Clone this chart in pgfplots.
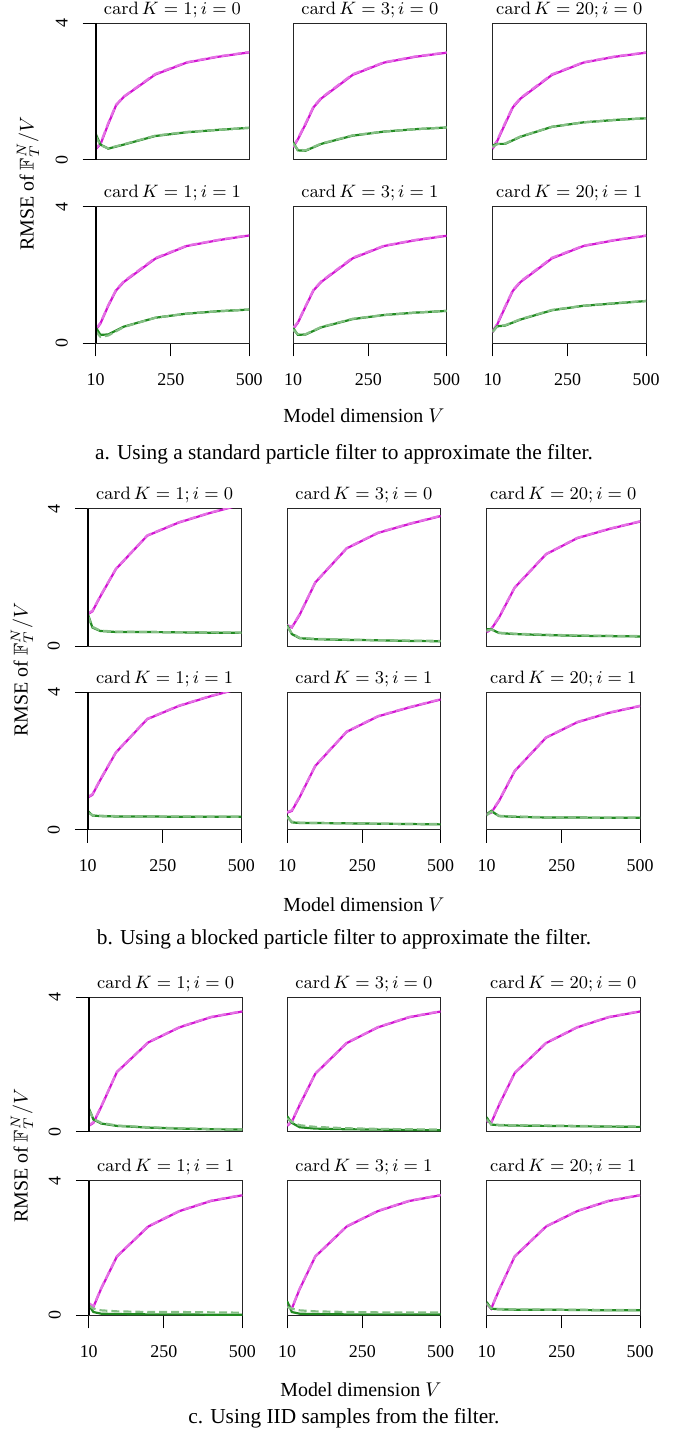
\documentclass[border=0pt]{standalone}
\usepackage{amsmath,amssymb}
\usepackage{graphicx}
\usepackage[no-math]{fontspec}
\setmainfont{Liberation Serif}
\usepackage{pgfplots}
\pgfplotsset{compat=1.18}

\definecolor{mag}{RGB}{210,20,210}
\definecolor{grn}{RGB}{34,139,34}

\pgfplotsset{
  panel/.style={
    anchor=north west, scale only axis, width=77pt,
    xmin=10, xmax=500, ymin=0, ymax=4,
    xtick=\empty, ytick=\empty,
    xtick pos=bottom, ytick pos=left,
    tick align=outside, major tick length=6.5pt,
    tick style={black, line width=0.5pt},
    axis line style={black!85, line width=0.5pt},
    title style={font=\fontsize{9}{10}\selectfont, inner sep=1pt, yshift=-4.5pt},
    tick label style={font=\fontsize{9}{10}\selectfont},
    /pgf/number format/assume math mode=true,
    xticklabel style={yshift=-5pt},
  },
  bottom/.style={xtick={10,250,500}},
  left/.style={ytick={0,4}, yticklabels={\rotatebox{90}{0},\rotatebox{90}{4}}, yticklabel shift=4pt,
    extra description/.code={\draw[black, line width=0.8pt] (rel axis cs:0,0) -- (rel axis cs:0,1);}},
  ms/.style={mag, line width=1.1pt, no markers},
  md/.style={mag!60!white, line width=1.1pt, no markers, dash pattern=on 4pt off 2pt},
  gs/.style={grn, line width=1.1pt, no markers},
  gd/.style={grn!55!white, line width=1.1pt, no markers, dash pattern=on 4pt off 2pt},
}

% #1 position, #2 title, #3 options, #4-#7 series
\newcommand{\panel}[7]{%
  \begin{axis}[panel, at={(#1)}, title={#2}, #3]
    \addplot[ms] coordinates {#4};
    \addplot[md] coordinates {#5};
    \addplot[gs] coordinates {#6};
    \addplot[gd] coordinates {#7};
  \end{axis}}

\begin{document}
\begin{tikzpicture}
\path (0,0) rectangle (345pt,-719pt);

% ---------- a: standard particle filter ----------
\panel{48pt,-9.5pt}{$\operatorname{card}K=1;i=0$}{height=68.5pt, left}
 {(10,0.32)(25,0.45)(50,1.05)(75,1.6)(100,1.85)(200,2.5)(300,2.85)(400,3.02)(500,3.15)}
 {(10,0.34)(25,0.48)(50,1.08)(75,1.62)(100,1.86)(200,2.52)(300,2.86)(400,3.03)(500,3.16)}
 {(10,0.76)(25,0.45)(50,0.33)(100,0.45)(200,0.7)(300,0.81)(400,0.88)(500,0.94)}
 {(10,0.7)(25,0.43)(50,0.34)(100,0.46)(200,0.71)(300,0.82)(400,0.88)(500,0.94)}
\panel{147pt,-9.5pt}{$\operatorname{card}K=3;i=0$}{height=68.5pt}
 {(10,0.37)(25,0.6)(50,1.05)(75,1.54)(100,1.8)(200,2.49)(300,2.85)(400,3.02)(500,3.14)}
 {(10,0.4)(25,0.62)(50,1.08)(75,1.56)(100,1.82)(200,2.51)(300,2.86)(400,3.03)(500,3.15)}
 {(10,0.52)(25,0.28)(50,0.27)(100,0.47)(200,0.71)(300,0.83)(400,0.9)(500,0.95)}
 {(10,0.48)(25,0.3)(50,0.28)(100,0.48)(200,0.72)(300,0.83)(400,0.9)(500,0.95)}
\panel{247pt,-9.5pt}{$\operatorname{card}K=20;i=0$}{height=68.5pt}
 {(10,0.32)(25,0.55)(50,1.05)(75,1.54)(100,1.8)(200,2.49)(300,2.85)(400,3.02)(500,3.14)}
 {(10,0.35)(25,0.58)(50,1.08)(75,1.56)(100,1.82)(200,2.51)(300,2.86)(400,3.03)(500,3.15)}
 {(10,0.42)(25,0.47)(50,0.47)(100,0.68)(200,0.97)(300,1.1)(400,1.17)(500,1.22)}
 {(10,0.38)(25,0.46)(50,0.48)(100,0.69)(200,0.97)(300,1.1)(400,1.17)(500,1.22)}
\panel{48pt,-101.5pt}{$\operatorname{card}K=1;i=1$}{height=68.5pt, left, bottom}
 {(10,0.39)(25,0.58)(50,1.1)(75,1.55)(100,1.8)(200,2.48)(300,2.85)(400,3.02)(500,3.16)}
 {(10,0.42)(25,0.6)(50,1.12)(75,1.57)(100,1.82)(200,2.5)(300,2.86)(400,3.03)(500,3.17)}
 {(10,0.47)(25,0.25)(50,0.26)(100,0.49)(200,0.75)(300,0.87)(400,0.94)(500,0.99)}
 {(10,0.36)(25,0.19)(50,0.23)(100,0.48)(200,0.75)(300,0.87)(400,0.94)(500,0.99)}
\panel{147pt,-101.5pt}{$\operatorname{card}K=3;i=1$}{height=68.5pt, bottom}
 {(10,0.42)(25,0.6)(50,1.08)(75,1.55)(100,1.8)(200,2.49)(300,2.85)(400,3.02)(500,3.15)}
 {(10,0.45)(25,0.62)(50,1.1)(75,1.57)(100,1.82)(200,2.51)(300,2.86)(400,3.03)(500,3.16)}
 {(10,0.45)(25,0.25)(50,0.26)(100,0.47)(200,0.71)(300,0.83)(400,0.9)(500,0.95)}
 {(10,0.4)(25,0.27)(50,0.27)(100,0.48)(200,0.72)(300,0.83)(400,0.9)(500,0.95)}
\panel{247pt,-101.5pt}{$\operatorname{card}K=20;i=1$}{height=68.5pt, bottom}
 {(10,0.32)(25,0.55)(50,1.05)(75,1.54)(100,1.8)(200,2.49)(300,2.85)(400,3.02)(500,3.15)}
 {(10,0.35)(25,0.58)(50,1.08)(75,1.56)(100,1.82)(200,2.51)(300,2.86)(400,3.03)(500,3.16)}
 {(10,0.35)(25,0.5)(50,0.52)(100,0.7)(200,0.97)(300,1.1)(400,1.17)(500,1.24)}
 {(10,0.33)(25,0.49)(50,0.53)(100,0.71)(200,0.98)(300,1.1)(400,1.18)(500,1.24)}

\node[rotate=90, font=\fontsize{10}{12}\selectfont] at (14pt,-90pt) {RMSE of $\mathbb{F}_T^N/V$};
\node[font=\fontsize{10}{12}\selectfont] at (182.5pt,-206.5pt) {Model dimension $V$};
\node[font=\fontsize{10.7}{13}\selectfont] at (172.5pt,-225.5pt) {a. Using a standard particle filter to approximate the filter.};

% ---------- b: blocked particle filter ----------
\panel{44pt,-253pt}{$\operatorname{card}K=1;i=0$}{height=69pt, left}
 {(10,0.94)(25,1.02)(50,1.45)(100,2.25)(200,3.22)(300,3.6)(400,3.88)(500,4.12)}
 {(10,0.96)(25,1.04)(50,1.47)(100,2.26)(200,3.23)(300,3.61)(400,3.89)(500,4.13)}
 {(10,0.95)(25,0.55)(50,0.45)(100,0.42)(200,0.42)(300,0.41)(400,0.4)(500,0.4)}
 {(10,0.9)(25,0.57)(50,0.46)(100,0.43)(200,0.42)(300,0.41)(400,0.41)(500,0.4)}
\panel{144pt,-253pt}{$\operatorname{card}K=3;i=0$}{height=69pt}
 {(10,0.6)(25,0.55)(50,0.92)(100,1.86)(200,2.85)(300,3.3)(400,3.56)(500,3.79)}
 {(10,0.62)(25,0.57)(50,0.94)(100,1.87)(200,2.86)(300,3.31)(400,3.57)(500,3.8)}
 {(10,0.62)(25,0.36)(50,0.24)(100,0.21)(200,0.19)(300,0.18)(400,0.16)(500,0.15)}
 {(10,0.58)(25,0.38)(50,0.25)(100,0.22)(200,0.2)(300,0.18)(400,0.17)(500,0.16)}
\panel{244pt,-253pt}{$\operatorname{card}K=20;i=0$}{height=69pt}
 {(10,0.41)(25,0.5)(50,0.84)(100,1.71)(200,2.68)(300,3.15)(400,3.41)(500,3.63)}
 {(10,0.43)(25,0.52)(50,0.86)(100,1.72)(200,2.69)(300,3.16)(400,3.42)(500,3.64)}
 {(10,0.5)(25,0.5)(50,0.39)(100,0.36)(200,0.33)(300,0.31)(400,0.3)(500,0.29)}
 {(10,0.46)(25,0.49)(50,0.4)(100,0.37)(200,0.34)(300,0.32)(400,0.31)(500,0.3)}
\panel{44pt,-345pt}{$\operatorname{card}K=1;i=1$}{height=69pt, left, bottom}
 {(10,0.94)(25,1.02)(50,1.45)(100,2.25)(200,3.22)(300,3.6)(400,3.88)(500,4.12)}
 {(10,0.96)(25,1.04)(50,1.47)(100,2.26)(200,3.23)(300,3.61)(400,3.89)(500,4.13)}
 {(10,0.55)(25,0.42)(50,0.4)(100,0.39)(200,0.39)(300,0.38)(400,0.38)(500,0.38)}
 {(10,0.5)(25,0.43)(50,0.41)(100,0.4)(200,0.39)(300,0.39)(400,0.38)(500,0.38)}
\panel{144pt,-345pt}{$\operatorname{card}K=3;i=1$}{height=69pt, bottom}
 {(10,0.5)(25,0.55)(50,0.95)(100,1.86)(200,2.85)(300,3.3)(400,3.56)(500,3.79)}
 {(10,0.52)(25,0.57)(50,0.97)(100,1.87)(200,2.86)(300,3.31)(400,3.57)(500,3.8)}
 {(10,0.4)(25,0.22)(50,0.2)(100,0.2)(200,0.19)(300,0.18)(400,0.17)(500,0.16)}
 {(10,0.36)(25,0.24)(50,0.21)(100,0.2)(200,0.19)(300,0.18)(400,0.17)(500,0.17)}
\panel{244pt,-345pt}{$\operatorname{card}K=20;i=1$}{height=69pt, bottom}
 {(10,0.45)(25,0.5)(50,0.84)(100,1.71)(200,2.68)(300,3.13)(400,3.4)(500,3.6)}
 {(10,0.47)(25,0.52)(50,0.86)(100,1.72)(200,2.69)(300,3.14)(400,3.41)(500,3.61)}
 {(10,0.45)(25,0.55)(50,0.4)(100,0.38)(200,0.36)(300,0.36)(400,0.35)(500,0.35)}
 {(10,0.42)(25,0.53)(50,0.41)(100,0.39)(200,0.37)(300,0.36)(400,0.35)(500,0.35)}

\node[rotate=90, font=\fontsize{10}{12}\selectfont] at (11pt,-333.5pt) {RMSE of $\mathbb{F}_T^N/V$};
\node[font=\fontsize{10}{12}\selectfont] at (182.5pt,-451.5pt) {Model dimension $V$};
\node[font=\fontsize{10.7}{13}\selectfont] at (172.5pt,-469pt) {b. Using a blocked particle filter to approximate the filter.};

% ---------- c: IID samples ----------
\panel{44.5pt,-498pt}{$\operatorname{card}K=1;i=0$}{height=67.5pt, left}
 {(10,0.18)(25,0.27)(50,0.75)(100,1.78)(200,2.66)(300,3.11)(400,3.41)(500,3.58)}
 {(10,0.2)(25,0.29)(50,0.77)(100,1.79)(200,2.67)(300,3.12)(400,3.42)(500,3.59)}
 {(10,0.71)(25,0.37)(50,0.25)(100,0.18)(200,0.13)(300,0.1)(400,0.08)(500,0.07)}
 {(10,0.66)(25,0.39)(50,0.27)(100,0.19)(200,0.14)(300,0.11)(400,0.09)(500,0.08)}
\panel{144pt,-498pt}{$\operatorname{card}K=3;i=0$}{height=67.5pt}
 {(10,0.18)(25,0.3)(50,0.8)(100,1.73)(200,2.64)(300,3.11)(400,3.41)(500,3.58)}
 {(10,0.2)(25,0.32)(50,0.82)(100,1.74)(200,2.65)(300,3.12)(400,3.42)(500,3.59)}
 {(10,0.47)(25,0.27)(50,0.14)(100,0.1)(200,0.08)(300,0.07)(400,0.06)(500,0.05)}
 {(10,0.4)(25,0.3)(50,0.2)(100,0.15)(200,0.11)(300,0.09)(400,0.08)(500,0.07)}
\panel{244pt,-498pt}{$\operatorname{card}K=20;i=0$}{height=67.5pt}
 {(10,0.32)(25,0.27)(50,0.8)(100,1.75)(200,2.64)(300,3.11)(400,3.41)(500,3.58)}
 {(10,0.34)(25,0.29)(50,0.82)(100,1.76)(200,2.65)(300,3.12)(400,3.42)(500,3.59)}
 {(10,0.44)(25,0.22)(50,0.2)(100,0.19)(200,0.18)(300,0.17)(400,0.16)(500,0.15)}
 {(10,0.38)(25,0.23)(50,0.21)(100,0.2)(200,0.19)(300,0.18)(400,0.17)(500,0.16)}
\panel{44.5pt,-590pt}{$\operatorname{card}K=1;i=1$}{height=67.5pt, left, bottom}
 {(10,0.35)(25,0.25)(50,0.8)(100,1.75)(200,2.64)(300,3.1)(400,3.4)(500,3.57)}
 {(10,0.37)(25,0.27)(50,0.82)(100,1.76)(200,2.65)(300,3.11)(400,3.41)(500,3.58)}
 {(10,0.3)(25,0.1)(50,0.05)(100,0.04)(200,0.03)(300,0.03)(400,0.02)(500,0.02)}
 {(10,0.3)(25,0.2)(50,0.15)(100,0.12)(200,0.1)(300,0.1)(400,0.09)(500,0.08)}
\panel{144pt,-590pt}{$\operatorname{card}K=3;i=1$}{height=67.5pt, bottom}
 {(10,0.35)(25,0.2)(50,0.78)(100,1.75)(200,2.64)(300,3.1)(400,3.4)(500,3.57)}
 {(10,0.37)(25,0.22)(50,0.8)(100,1.76)(200,2.65)(300,3.11)(400,3.41)(500,3.58)}
 {(10,0.42)(25,0.1)(50,0.05)(100,0.04)(200,0.03)(300,0.03)(400,0.03)(500,0.03)}
 {(10,0.25)(25,0.2)(50,0.15)(100,0.12)(200,0.1)(300,0.09)(400,0.09)(500,0.09)}
\panel{244pt,-590pt}{$\operatorname{card}K=20;i=1$}{height=67.5pt, bottom}
 {(10,0.35)(25,0.2)(50,0.75)(100,1.75)(200,2.64)(300,3.1)(400,3.4)(500,3.57)}
 {(10,0.37)(25,0.22)(50,0.77)(100,1.76)(200,2.65)(300,3.11)(400,3.41)(500,3.58)}
 {(10,0.4)(25,0.2)(50,0.18)(100,0.17)(200,0.17)(300,0.16)(400,0.15)(500,0.15)}
 {(10,0.35)(25,0.21)(50,0.19)(100,0.18)(200,0.17)(300,0.17)(400,0.16)(500,0.16)}

\node[rotate=90, font=\fontsize{10}{12}\selectfont] at (11pt,-577.5pt) {RMSE of $\mathbb{F}_T^N/V$};
\node[font=\fontsize{10}{12}\selectfont] at (181pt,-695pt) {Model dimension $V$};
\node[font=\fontsize{10.7}{13}\selectfont] at (172.5pt,-709pt) {c. Using IID samples from the filter.};
\end{tikzpicture}
\end{document}
